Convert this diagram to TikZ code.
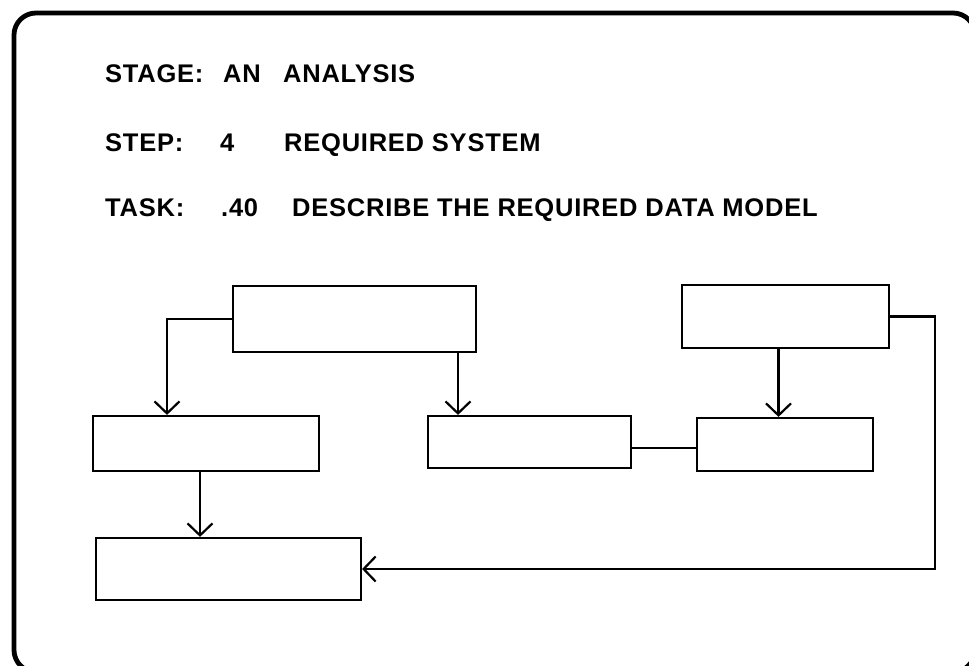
\documentclass[tikz,border=0pt]{standalone}
\usepackage{fontspec}
\setmainfont{Liberation Sans}
\usetikzlibrary{arrows.meta}
\begin{document}
\begin{tikzpicture}[x=1pt,y=-1pt,
  box/.style={draw,line width=2.2pt,inner sep=0pt},
  lbl/.style={anchor=base west,inner sep=0pt,font=\fontsize{25.5}{30}\selectfont\bfseries\addfontfeature{LetterSpace=3}},
  >={Straight Barb[length=12pt,width=25pt]},
  link/.style={line width=2.2pt}]
\useasboundingbox (0,0) rectangle (969,666);
\clip (0,0) rectangle (969,666);
\draw[line width=4.8pt,rounded corners=22pt] (14,13) rectangle (975,672);
\node[lbl] (stage) at (105,83) {STAGE:};
\node[lbl] (stagecode) at (223,83) {AN};
\node[lbl] (stagename) at (283,83) {ANALYSIS};
\node[lbl] (step) at (105,151) {STEP:};
\node[lbl] (stepcode) at (220,151) {4};
\node[lbl] (stepname) at (284,151) {REQUIRED SYSTEM};
\node[lbl] (task) at (105,216) {TASK:};
\node[lbl] (taskcode) at (221,216) {.40};
\node[lbl] (taskname) at (292,216) {DESCRIBE THE REQUIRED DATA MODEL};
\node[box,minimum width=243pt,minimum height=66pt] (b0) at (354.5,319) {};
\node[box,minimum width=207pt,minimum height=63pt] (b1) at (785.5,316.5) {};
\node[box,minimum width=226pt,minimum height=55pt] (b2) at (206,443.5) {};
\node[box,minimum width=203pt,minimum height=52pt] (b3) at (529.5,442) {};
\node[box,minimum width=176pt,minimum height=53pt] (b4) at (785,444.5) {};
\node[box,minimum width=265pt,minimum height=62pt] (b5) at (228.5,569) {};
\draw [link,->] (b0.west) -| ([xshift=-39pt]b2.north);
\draw [link,->] ([xshift=-71.5pt]b3.north |- b0.south) -- ([xshift=-71.5pt]b3.north);
\draw [link,->] ([xshift=-6pt]b2.south) -- ([xshift=-6pt]b2.south |- b5.north);
\draw [link,->] ([xshift=-7pt]b1.south) -- ([xshift=-7pt]b1.south |- b4.north);
\draw [link] ([yshift=-6pt]b3.east) -- ([yshift=-6pt]b3.east -| b4.west);
\draw [link,->] (b1.east) -- ++(45,0) |- (b5.east);
\end{tikzpicture}
\end{document}
